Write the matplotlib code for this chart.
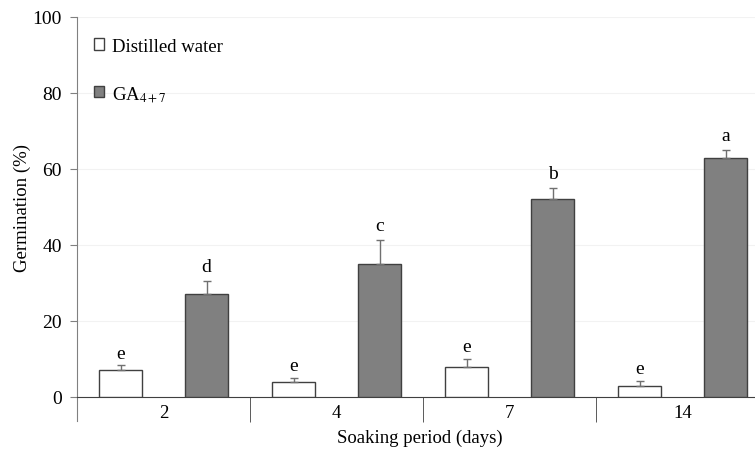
import matplotlib.pyplot as plt
import matplotlib.patches as mpatches
import numpy as np

plt.rcParams['font.family'] = ['Liberation Serif', 'DejaVu Serif']
plt.rcParams['mathtext.fontset'] = 'stix'

periods = ["2", "4", "7", "14"]
water = [7, 4, 8, 3]
water_err = [1.3, 1.0, 2.1, 1.2]
ga = [27, 35, 52, 63]
ga_err = [3.6, 6.2, 3.0, 2.0]
water_letters = ["e", "e", "e", "e"]
ga_letters = ["d", "c", "b", "a"]

fig = plt.figure(figsize=(7.55, 4.52), dpi=100)
ax = fig.add_axes([77 / 755, 1 - 398 / 452, 692 / 755, 380 / 452])

x = np.arange(len(periods))
off = 43 / 173
w = 43 / 173

ax.bar(x - off, water, w, color="white", edgecolor="#404040", linewidth=1, zorder=3)
ax.bar(x + off, ga, w, color="#808080", edgecolor="#404040", linewidth=1, zorder=3)
ax.errorbar(x - off, water, yerr=[np.zeros(4), water_err], fmt="none",
            ecolor="#707070", elinewidth=1, capsize=3, zorder=4)
ax.errorbar(x + off, ga, yerr=[np.zeros(4), ga_err], fmt="none",
            ecolor="#707070", elinewidth=1, capsize=3, zorder=4)

for i in range(len(periods)):
    ax.text(x[i] - off, water[i] + water_err[i] + 1.0, water_letters[i],
            ha="center", va="bottom", fontsize=14)
    ax.text(x[i] + off, ga[i] + ga_err[i] + 1.6, ga_letters[i],
            ha="center", va="bottom", fontsize=14)

ax.set_xlim(-0.5, 3.5)
ax.set_ylim(0, 100)
ax.set_yticks([0, 20, 40, 60, 80, 100])
ax.tick_params(axis="y", labelsize=14, length=5, pad=6, color="#808080")
ax.grid(axis="y", color="#f2f2f2", linewidth=0.8, zorder=0)

ax.set_xticks(x)
ax.set_xticklabels(periods, fontsize=13.5)
ax.tick_params(axis="x", which="major", length=0, pad=5)
ax.set_xticks([0.5, 1.5, 2.5], minor=True)
ax.tick_params(axis="x", which="minor", length=18, color="#404040")

for s in ["top", "right"]:
    ax.spines[s].set_visible(False)
ax.spines["left"].set_color("#808080")
ax.spines["left"].set_bounds(-6.3, 100)
ax.spines["left"].set_clip_on(False)
ax.spines["bottom"].set_color("#404040")

ax.set_ylabel("Germination (%)", fontsize=13.5)
ax.yaxis.set_label_coords(-0.0665, 0.5)
fig.text(420 / 755, 1 - 438 / 452, "Soaking period (days)", fontsize=13.5,
         ha="center", va="center")

h1 = mpatches.Patch(facecolor="white", edgecolor="#404040", label="Distilled water")
h2 = mpatches.Patch(facecolor="#808080", edgecolor="#404040", label="GA$_{4+7}$")
ax.legend(handles=[h1, h2], loc="upper left", frameon=False, fontsize=13.5,
          handlelength=0.55, handleheight=0.55, handletextpad=0.4,
          labelspacing=1.55, borderaxespad=0.5, bbox_to_anchor=(0.0, 0.99))

fig.savefig("out.png", dpi=100)
